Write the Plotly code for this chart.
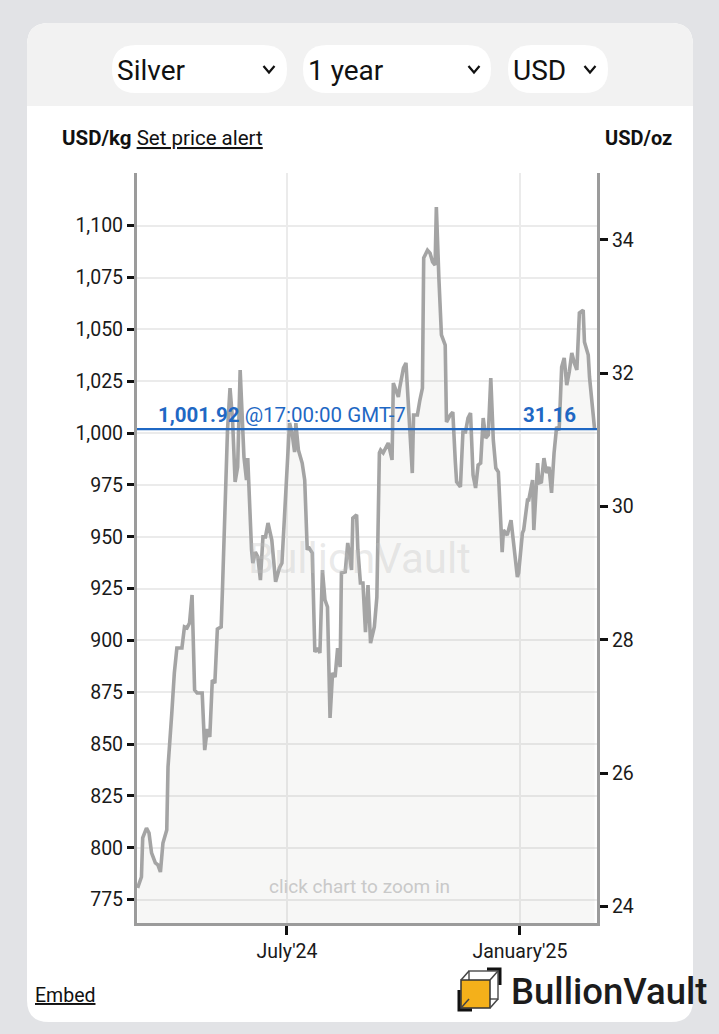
import plotly.graph_objects as go

# ---------------- data ----------------
dates = [
    "2024-03-05", "2024-03-08", "2024-03-09", "2024-03-12", "2024-03-14", "2024-03-16",
    "2024-03-19", "2024-03-21", "2024-03-23", "2024-03-25", "2024-03-28", "2024-03-29",
    "2024-04-01", "2024-04-03", "2024-04-05", "2024-04-09", "2024-04-11", "2024-04-13",
    "2024-04-15", "2024-04-17", "2024-04-19", "2024-04-21", "2024-04-25", "2024-04-27",
    "2024-04-29", "2024-05-01", "2024-05-03", "2024-05-05", "2024-05-07", "2024-05-10",
    "2024-05-11", "2024-05-15", "2024-05-17", "2024-05-19", "2024-05-21", "2024-05-23",
    "2024-05-25", "2024-05-28", "2024-05-30", "2024-05-31", "2024-06-03", "2024-06-04",
    "2024-06-06", "2024-06-08", "2024-06-10", "2024-06-12", "2024-06-14", "2024-06-16",
    "2024-06-19", "2024-06-22", "2024-06-25", "2024-06-27", "2024-06-29", "2024-07-01",
    "2024-07-03", "2024-07-05", "2024-07-07", "2024-07-08", "2024-07-10", "2024-07-13",
    "2024-07-15", "2024-07-17", "2024-07-18", "2024-07-21", "2024-07-23", "2024-07-25",
    "2024-07-27", "2024-07-29", "2024-07-31", "2024-08-02", "2024-08-04", "2024-08-06",
    "2024-08-08", "2024-08-10", "2024-08-12", "2024-08-13", "2024-08-16", "2024-08-18",
    "2024-08-21", "2024-08-22", "2024-08-25", "2024-08-26", "2024-08-28", "2024-08-30",
    "2024-09-01", "2024-09-03", "2024-09-05", "2024-09-08", "2024-09-10", "2024-09-12",
    "2024-09-13", "2024-09-15", "2024-09-17", "2024-09-19", "2024-09-22", "2024-09-23",
    "2024-09-25", "2024-09-27", "2024-09-28", "2024-10-01", "2024-10-03", "2024-10-05",
    "2024-10-08", "2024-10-09", "2024-10-12", "2024-10-14", "2024-10-16", "2024-10-17",
    "2024-10-20", "2024-10-22", "2024-10-24", "2024-10-26", "2024-10-27", "2024-10-29",
    "2024-10-31", "2024-11-03", "2024-11-04", "2024-11-07", "2024-11-09", "2024-11-11",
    "2024-11-12", "2024-11-15", "2024-11-17", "2024-11-19", "2024-11-21", "2024-11-23",
    "2024-11-25", "2024-11-27", "2024-11-29", "2024-12-01", "2024-12-03", "2024-12-05",
    "2024-12-07", "2024-12-09", "2024-12-11", "2024-12-13", "2024-12-15", "2024-12-18",
    "2024-12-19", "2024-12-22", "2024-12-25", "2024-12-27", "2024-12-30", "2024-12-31",
    "2025-01-03", "2025-01-04", "2025-01-07", "2025-01-08", "2025-01-11", "2025-01-12",
    "2025-01-15", "2025-01-16", "2025-01-18", "2025-01-20", "2025-01-22", "2025-01-24",
    "2025-01-26", "2025-01-28", "2025-01-30", "2025-02-01", "2025-02-03", "2025-02-05",
    "2025-02-07", "2025-02-09", "2025-02-11", "2025-02-13", "2025-02-15", "2025-02-17",
    "2025-02-20", "2025-02-21", "2025-02-24", "2025-02-25", "2025-03-01",
]

usd_per_kg = [
    780.6, 785.9, 804.7, 809.5, 807.1, 797.5,
    792.7, 791.7, 788.3, 802.3, 808.6, 838.9,
    865.0, 884.3, 896.3, 896.3, 906.5, 906.0,
    908.4, 921.9, 876.1, 874.6, 874.6, 847.1,
    857.3, 853.4, 880.9, 879.4, 905.5, 906.5,
    924.3, 1001.4, 1021.7, 1006.3, 976.4, 983.6,
    1030.4, 988.4, 977.3, 987.9, 943.6, 937.3,
    942.6, 940.2, 929.1, 949.9, 949.9, 956.6,
    948.4, 928.2, 934.9, 937.3, 959.5, 987.0,
    1004.8, 1000.0, 990.8, 1004.8, 991.8, 985.5,
    977.3, 943.6, 945.0, 942.1, 894.4, 896.3,
    893.9, 933.9, 919.5, 916.1, 862.6, 884.3,
    882.3, 896.3, 887.2, 932.5, 933.0, 947.0,
    933.9, 959.0, 960.5, 943.6, 927.7, 927.7,
    904.0, 926.7, 898.7, 906.5, 920.9, 990.4,
    991.8, 990.4, 993.2, 995.2, 987.0, 1024.1,
    1020.7, 1017.4, 1021.7, 1031.3, 1033.8, 1009.6,
    980.7, 1008.7, 1008.7, 1015.9, 1021.7, 1084.4,
    1088.2, 1086.8, 1082.5, 1081.0, 1109.0, 1074.7,
    1047.3, 1042.4, 1005.3, 1008.7, 1010.1, 986.0,
    976.4, 974.0, 1000.5, 1000.5, 1007.2, 1009.6,
    979.7, 973.5, 984.6, 985.5, 1007.2, 997.6,
    999.0, 1026.5, 996.6, 983.1, 981.2, 942.6,
    953.2, 950.8, 958.0, 947.0, 930.6, 932.5,
    951.8, 953.2, 967.7, 967.7, 977.3, 953.2,
    985.5, 975.9, 976.4, 987.9, 980.7, 983.6,
    971.1, 990.4, 1002.9, 1001.4, 1031.8, 1036.2,
    1023.1, 1029.4, 1038.6, 1033.8, 1030.4, 1057.9,
    1059.3, 1043.9, 1037.6, 1027.0, 1001.92,
]

OZ_PER_KG = 32.1507
usd_per_oz = [v / OZ_PER_KG for v in usd_per_kg]
current_price = usd_per_kg[-1]

x_ticks = ["2024-07-01", "2025-01-01"]
x_tick_labels = ["July'24", "January'25"]
x_range = ["2024-03-04 12:00", "2025-03-02 22:00"]
y_range = [763.7, 1125.4]
kg_ticks = [775, 800, 825, 850, 875, 900, 925, 950, 975, 1000, 1025, 1050, 1075, 1100]
oz_ticks = [24, 26, 28, 30, 32, 34]

selectors = ["Silver", "1 year", "USD"]

# ---------------- layout helpers (pixel -> paper) ----------------
W, H = 719, 1034
L, R, T, B = 137, 597, 173, 923


def px(x):
    return (x - L) / (R - L)


def py(y):
    return (B - y) / (B - T)


def rrect(x0, y0, x1, y1, r, top=True, bottom=True):
    rt = r if top else 0
    rb = r if bottom else 0
    s = f"M {px(x0 + rt)},{py(y0)} L {px(x1 - rt)},{py(y0)} "
    if rt:
        s += f"Q {px(x1)},{py(y0)} {px(x1)},{py(y0 + rt)} "
    s += f"L {px(x1)},{py(y1 - rb)} "
    if rb:
        s += f"Q {px(x1)},{py(y1)} {px(x1 - rb)},{py(y1)} "
    s += f"L {px(x0 + rb)},{py(y1)} "
    if rb:
        s += f"Q {px(x0)},{py(y1)} {px(x0)},{py(y1 - rb)} "
    s += f"L {px(x0)},{py(y0 + rt)} "
    if rt:
        s += f"Q {px(x0)},{py(y0)} {px(x0 + rt)},{py(y0)} "
    s += "Z"
    return s


FONT = "Roboto, 'Noto Sans', sans-serif"

fig = go.Figure()
fig.add_trace(go.Scatter(
    x=dates, y=usd_per_kg, mode="lines",
    line=dict(color="#a4a4a4", width=3.6),
    fill="tozeroy", fillcolor="rgba(110,110,90,0.055)",
    hoverinfo="skip", showlegend=False,
))
fig.add_trace(go.Scatter(
    x=dates, y=usd_per_oz, mode="lines", yaxis="y2",
    line=dict(color="rgba(0,0,0,0)", width=0),
    hoverinfo="skip", showlegend=False,
))

shapes = []
# card
shapes.append(dict(type="path", xref="paper", yref="paper", layer="below",
                   path=rrect(27, 23, 693, 1022, 22), fillcolor="white", line=dict(width=0)))
# header strip
shapes.append(dict(type="path", xref="paper", yref="paper", layer="below",
                   path=rrect(27, 23, 693, 106, 22, top=True, bottom=False),
                   fillcolor="#f2f2f2", line=dict(width=0)))
# selector pills
pills = [(112, 287, 269), (303, 491, 474), (508, 608, 590)]
for (x0, x1, cx) in pills:
    shapes.append(dict(type="path", xref="paper", yref="paper", layer="below",
                       path=rrect(x0, 45, x1, 93, 24), fillcolor="white", line=dict(width=0)))
    shapes.append(dict(type="path", xref="paper", yref="paper", layer="above",
                       path=f"M {px(cx-5.5)},{py(66)} L {px(cx)},{py(72.5)} L {px(cx+5.5)},{py(66)}",
                       line=dict(color="#111", width=2.2)))
# current price line
shapes.append(dict(type="line", xref="paper", yref="y", x0=0, x1=1,
                   y0=current_price, y1=current_price,
                   line=dict(color="#1f68c4", width=2.2), layer="above"))
# logo cube
shapes.append(dict(type="rect", xref="paper", yref="paper", layer="above",
                   x0=px(469), x1=px(498), y0=py(999), y1=py(971),
                   fillcolor="rgba(0,0,0,0)", line=dict(color="#555", width=1.5)))
shapes.append(dict(type="rect", xref="paper", yref="paper", layer="above",
                   x0=px(461), x1=px(490), y0=py(1008), y1=py(980),
                   fillcolor="#f4b01a", line=dict(color="#333", width=1.5)))
for (ax, ay, bx, by) in [(461, 980, 469, 971), (490, 980, 498, 971),
                         (490, 1008, 498, 999), (461, 1008, 469, 999)]:
    shapes.append(dict(type="line", xref="paper", yref="paper", layer="above",
                       x0=px(ax), y0=py(ay), x1=px(bx), y1=py(by),
                       line=dict(color="#444", width=1.5)))
for path in [
    f"M {px(459)},{py(990)} L {px(459)},{py(1010)} L {px(472)},{py(1010)}",
    f"M {px(487)},{py(969)} L {px(500)},{py(969)} L {px(500)},{py(985)}",
]:
    shapes.append(dict(type="path", xref="paper", yref="paper", layer="above",
                       path=path, line=dict(color="#111", width=3)))

annotations = []
for (x0, _, _), label in zip(pills, selectors):
    annotations.append(dict(xref="paper", yref="paper", x=px(x0 + 3), y=py(70),
                            xanchor="left", yanchor="middle", showarrow=False,
                            text=label, font=dict(family=FONT, size=28, color="#111")))
annotations += [
    dict(xref="paper", yref="paper", x=px(60), y=py(138), xanchor="left", yanchor="middle",
         showarrow=False, text="<b>USD/kg</b> <u>Set price alert</u>",
         font=dict(family=FONT, size=20.5, color="#111")),
    dict(xref="paper", yref="paper", x=px(674), y=py(138), xanchor="right", yanchor="middle",
         showarrow=False, text="<b>USD/oz</b>",
         font=dict(family=FONT, size=20, color="#111")),
    dict(xref="paper", yref="paper", x=px(359), y=py(558), xanchor="center", yanchor="middle",
         showarrow=False, text="BullionVault",
         font=dict(family=FONT, size=42, color="rgba(190,190,190,0.33)")),
    dict(xref="paper", yref="paper", x=px(359), y=py(886), xanchor="center", yanchor="middle",
         showarrow=False, text="click chart to zoom in",
         font=dict(family=FONT, size=19, color="#c9c9c9")),
    dict(xref="paper", yref="paper", x=px(156), y=py(415), xanchor="left", yanchor="middle",
         showarrow=False, text=f"<b>{current_price:,.2f}</b> @17:00:00 GMT-7",
         font=dict(family=FONT, size=20.5, color="#1f68c4")),
    dict(xref="paper", yref="paper", x=px(578), y=py(415), xanchor="right", yanchor="middle",
         showarrow=False, text=f"<b>{current_price / OZ_PER_KG:.2f}</b>",
         font=dict(family=FONT, size=20.5, color="#1f68c4")),
    dict(xref="paper", yref="paper", x=px(33), y=py(995), xanchor="left", yanchor="middle",
         showarrow=False, text="<u>Embed</u>",
         font=dict(family=FONT, size=19.5, color="#111")),
    dict(xref="paper", yref="paper", x=px(709), y=py(991), xanchor="right", yanchor="middle",
         showarrow=False, text="BullionVault",
         font=dict(family=FONT, size=36.5, color="#1c1c1c", weight=500)),
]

axis_common = dict(
    showline=True, linecolor="#9b9b9b", linewidth=3,
    ticks="outside", tickcolor="#111", tickwidth=2.5,
    zeroline=False, fixedrange=True,
    tickfont=dict(family=FONT, size=19.5, color="#1a1a1a"),
)

fig.update_layout(
    width=W, height=H, autosize=False,
    margin=dict(l=L, r=W - R, t=T, b=H - B, pad=0),
    paper_bgcolor="#e2e3e6",
    plot_bgcolor="rgba(0,0,0,0)",
    showlegend=False,
    xaxis=dict(type="date", range=x_range, tickvals=x_ticks, ticktext=x_tick_labels,
               showgrid=True, gridcolor="#ebebeb", gridwidth=1.5, ticklen=9,
               **axis_common),
    yaxis=dict(range=y_range, tickvals=kg_ticks, tickformat=",",
               showgrid=True, gridcolor="#ebebeb", gridwidth=1.5, ticklen=7,
               **axis_common),
    yaxis2=dict(overlaying="y", side="right",
                range=[y_range[0] / OZ_PER_KG, y_range[1] / OZ_PER_KG],
                tickvals=oz_ticks, showgrid=False, ticklen=8,
                **axis_common),
    shapes=shapes,
    annotations=annotations,
)

fig.write_html("out.html", config={"displayModeBar": False})
